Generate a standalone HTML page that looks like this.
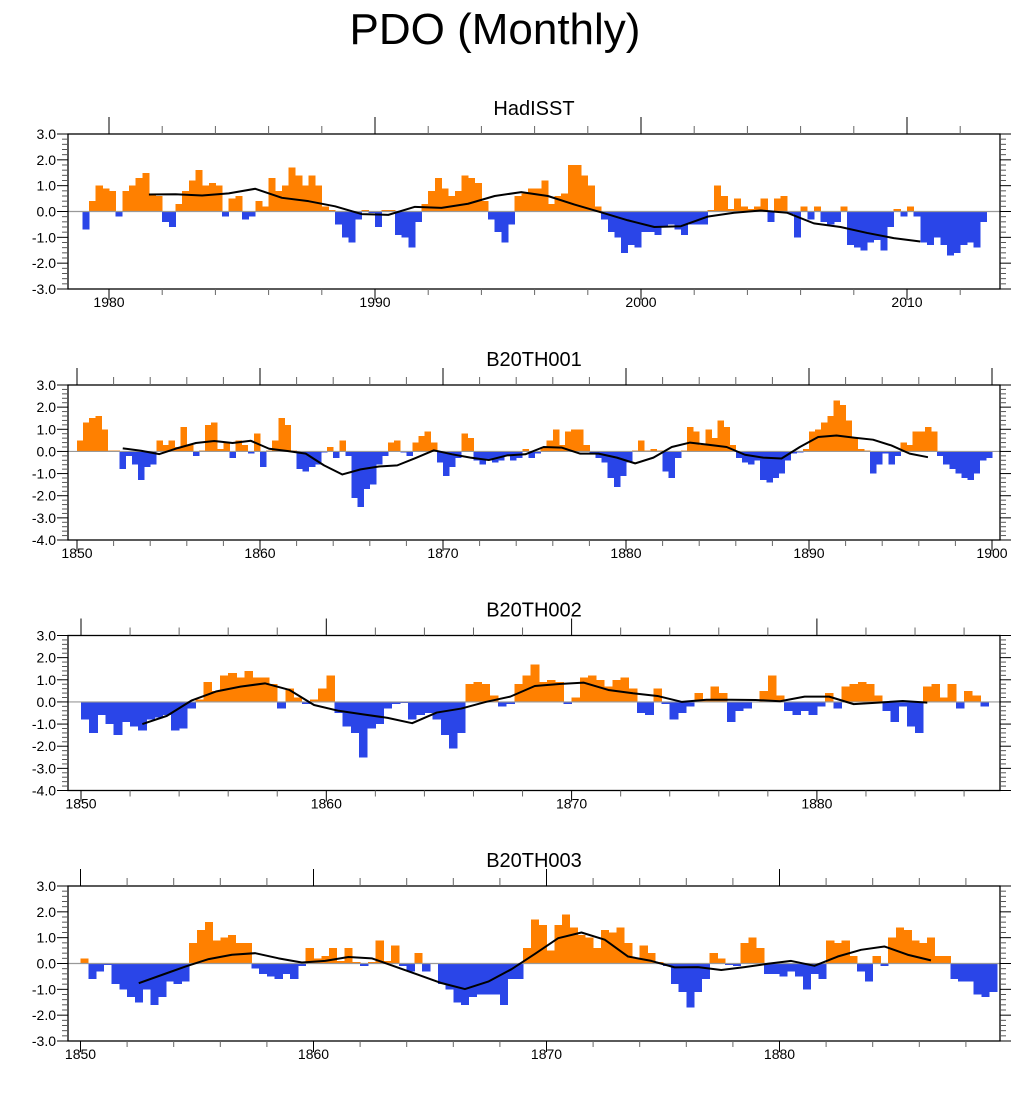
<!DOCTYPE html>
<html><head><meta charset="utf-8"><title>PDO (Monthly)</title>
<style>
html,body{margin:0;padding:0;background:#fff;}
svg{display:block;font-family:"Liberation Sans",Arial,sans-serif;}
</style></head>
<body>
<svg id="chart" width="1028" height="1094" viewBox="0 0 1028 1094" xmlns="http://www.w3.org/2000/svg">
<rect width="1028" height="1094" fill="#fff"/>
<text x="495" y="44" font-size="44" text-anchor="middle">PDO (Monthly)</text>
</svg>
<script>
// ---- Data: HadISST (quarterly, starting 1979.0) ----
const hadStart = 1979.0;
const hadPerYear = 4;
const hadValues = [
-0.7,0.4,1.0,0.9, 0.8,-0.2,0.8,1.0, 1.3,1.5,0.7,0.6, -0.4,-0.6,0.3,0.8,
1.2,1.6,1.0,1.1, 1.0,-0.2,0.5,0.6, -0.3,-0.2,0.4,0.2, 1.3,0.8,1.0,1.7,
1.4,1.0,1.4,1.0, 0.2,0.05,-0.5,-1.0, -1.2,-0.3,0.05,-0.05, -0.6,0.05,0.05,-0.9,
-1.0,-1.4,-0.4,0.3, 0.8,1.3,0.9,0.6, 0.8,1.4,1.3,1.1, 0.4,-0.3,-0.8,-1.2,
-0.5,0.6,0.7,0.9, 0.9,1.2,0.3,0.6, 0.7,1.8,1.8,1.4, 1.0,0.2,-0.3,-0.8,
-1.0,-1.6,-1.3,-1.4, -0.8,-0.8,-0.9,-0.6, -0.5,-0.7,-0.9,-0.5, -0.5,-0.5,0.05,1.0,
0.6,0.1,0.5,0.2, 0.1,0.2,0.5,-0.4, 0.5,0.6,-0.1,-1.0, 0.2,-0.3,0.2,-0.4,
-0.5,-0.4,0.2,-1.3, -1.4,-1.5,-1.2,-1.1, -1.5,-0.6,0.1,-0.2, 0.2,-0.2,-1.2,-1.3,
-1.0,-1.3,-1.7,-1.6, -1.3,-1.2,-1.4,-0.4];
const hadSmoothStart = 1981.5;
const hadSmooth = [0.66,0.67,0.62,0.7,0.88,0.53,0.4,0.2,-0.1,-0.13,0.18,0.14,0.3,0.6,0.75,0.6,0.27,-0.03,-0.34,-0.6,-0.57,-0.2,-0.05,0.04,-0.05,-0.46,-0.6,-0.83,-1.03,-1.16];

// ---- Data: B20TH001 (3 per year, starting 1850) ----
const b1Start = 1850;
const b1PerYear = 3;
const b1Values = [
0.5,1.3,1.5, 1.6,1.0,0.05, 0.05,-0.8,-0.2, -0.6,-1.3,-0.7, -0.6,0.5,0.3,
0.5,0.2,1.1, 0.3,-0.2,0.05, 1.2,1.3,0.1, 0.4,-0.3,0.5, 0.3,-0.1,0.8,
-0.7,0.05,0.5, 1.5,1.2,0.05, -0.8,-0.9,-0.7, -0.6,-0.05,0.2, -0.3,0.5,-0.2,
-2.1,-2.5,-1.7, -1.5,-0.6,-0.2, 0.4,0.5,-0.05, -0.2,0.4,0.7, 0.9,0.4,-0.5,
-1.1,-0.7,-0.3, 0.8,0.6,-0.4, -0.6,-0.4,-0.5, -0.4,-0.2,-0.4, -0.3,0.1,-0.3,
-0.1,0.2,0.5, 1.0,0.3,0.9, 1.0,1.0,0.3, -0.1,-0.3,-0.5, -1.2,-1.6,-1.1,
-0.5,0.05,0.5, 0.05,0.1,0.05, -0.9,-1.2,-0.3, 0.05,1.1,0.9, 0.3,1.0,0.6,
1.4,1.1,0.3, -0.3,-0.5,-0.6, -0.4,-1.3,-1.4, -1.2,-1.0,-0.4, -0.1,-0.05,0.1,
0.9,1.0,1.3, 1.6,2.3,2.1, 1.4,0.6,0.1, 0.05,-1.0,-0.6, -0.1,-0.6,-0.2,
0.4,0.3,0.9, 0.9,1.1,0.9, -0.2,-0.6,-0.8, -1.0,-1.2,-1.3, -1.0,-0.4,-0.3];
const b1SmoothStart = 1852.5;
const b1Smooth = [0.14,0.03,-0.12,0.15,0.38,0.47,0.38,0.48,0.12,0.02,-0.1,-0.63,-1.04,-0.81,-0.68,-0.63,-0.3,0.05,-0.13,-0.28,-0.39,-0.18,-0.13,
0.2,0.17,-0.1,-0.1,-0.28,-0.54,-0.28,0.2,0.4,0.3,0.2,-0.15,-0.28,-0.32,0.2,0.65,0.72,0.62,0.53,0.27,-0.1,-0.26];

// ---- Data: B20TH002 ----
const b2Start = 1850;
const b2PerYear = 3;
const b2Values = [
-0.8,-1.4,-0.6, -1.0,-1.5,-0.9, -1.1,-1.3,-0.8, -0.7,-0.6,-1.3, -1.2,-0.3,0.1,
0.9,0.5,1.2, 1.3,1.1,1.4, 1.1,1.1,0.8, -0.3,0.6,0.2, -0.1,0.1,0.6,
1.2,-0.5,-1.1, -1.4,-2.5,-1.2, -1.0,-0.3,-0.1, -0.05,-0.8,-0.6, -0.5,-0.8,-1.5,
-2.1,-1.4,0.8, 0.9,0.8,0.3, -0.2,-0.1,0.8, 1.2,1.7,0.9, 1.0,0.9,-0.1,
0.2,1.1,1.2, 1.0,0.7,1.0, 1.1,0.6,-0.5, -0.6,0.6,-0.1, -0.8,-0.5,-0.2,
0.4,0.1,0.7, 0.4,-0.9,-0.4, -0.3,0.0,0.5, 1.2,0.3,-0.4, -0.6,-0.4,-0.6,
-0.2,0.4,-0.3, 0.7,0.8,0.9, 0.8,0.3,-0.4, -0.9,-0.2,-1.1, -1.4,0.7,0.8,
0.2,0.8,-0.3, 0.5,0.3,-0.2];
const b2SmoothStart = 1852.5;
const b2Smooth = [-1.0,-0.63,0.06,0.47,0.69,0.84,0.54,-0.14,-0.4,-0.56,-0.72,-0.96,-0.48,-0.3,0.0,0.24,0.72,
0.81,0.87,0.54,0.39,0.27,0.0,0.1,0.1,0.09,0.03,0.24,0.24,-0.1,-0.03,0.04,-0.03];

// ---- Data: B20TH003 ----
const b3Start = 1850;
const b3PerYear = 3;
const b3Values = [
0.2,-0.6,-0.3, -0.05,-0.8,-1.0, -1.3,-1.5,-1.0, -1.6,-1.3,-0.7, -0.8,-0.7,0.8,
1.3,1.6,0.9, 1.0,1.1,0.8, 0.8,-0.2,-0.4, -0.5,-0.6,-0.4, -0.6,-0.1,0.6,
0.2,0.3,0.6, 0.1,0.6,0.05, -0.1,0.05,0.9, 0.1,0.7,-0.1, -0.3,0.4,-0.3,
0.0,-0.8,-1.0, -1.5,-1.6,-1.3, -1.2,-1.2,-1.2, -1.6,-0.6,-0.6, 0.6,1.7,1.5,
0.5,1.5,1.9, 1.4,1.1,1.0, 0.6,1.3,1.2, 1.4,0.8,0.2, 0.7,0.4,0.05,
-0.1,-0.8,-1.1, -1.7,-1.1,-0.6, 0.4,0.2,-0.05, -0.1,0.8,1.0, 0.6,-0.4,-0.4,
-0.5,-0.3,-0.5, -1.0,-0.4,-0.6, 0.9,0.8,0.9, 0.3,-0.3,-0.7, 0.3,-0.1,1.0,
1.4,1.3,0.9, 0.8,1.0,0.3, 0.3,-0.6,-0.7, -0.7,-1.2,-1.3, -1.1];
const b3SmoothStart = 1852.5;
const b3Smooth = [-0.76,-0.44,-0.12,0.17,0.34,0.4,0.2,0.04,0.1,0.25,0.2,-0.12,-0.44,-0.76,-0.99,-0.7,-0.22,0.37,
0.98,1.2,0.92,0.27,0.1,-0.15,-0.14,-0.25,-0.14,-0.01,0.1,-0.09,0.27,0.53,0.66,0.34,0.12];

// ---- Tick label arrays ----
const hadXTicks = [1980,1990,2000,2010];
const b1XTicks = [1850,1860,1870,1880,1890,1900];
const b2XTicks = [1850,1860,1870,1880];
const b3XTicks = [1850,1860,1870,1880];
const yTicks63 = [3,2,1,0,-1,-2,-3];
const yTicks73 = [3,2,1,0,-1,-2,-3,-4];

// ---- Layout (not data) ----
const NS = 'http://www.w3.org/2000/svg';
const svg = document.getElementById('chart');
const FL = 68, FR = 1000, FH = 155;
const panels = [
 {key:'hadisst', title:'HadISST', top:134, ymin:-3, ymax:3, x0:109, yr0:1980, ppy:26.6, xt0:1978, xt1:2013.6,
  start:hadStart, per:hadPerYear, vals:hadValues, sStart:hadSmoothStart, smooth:hadSmooth, xt:hadXTicks, yt:yTicks63},
 {key:'b20th001', title:'B20TH001', top:385, ymin:-4, ymax:3, x0:77, yr0:1850, ppy:18.3, xt0:1849, xt1:1901,
  start:b1Start, per:b1PerYear, vals:b1Values, sStart:b1SmoothStart, smooth:b1Smooth, xt:b1XTicks, yt:yTicks73},
 {key:'b20th002', title:'B20TH002', top:635.5, ymin:-4, ymax:3, x0:81, yr0:1850, ppy:24.53, xt0:1849, xt1:1888,
  start:b2Start, per:b2PerYear, vals:b2Values, sStart:b2SmoothStart, smooth:b2Smooth, xt:b2XTicks, yt:yTicks73},
 {key:'b20th003', title:'B20TH003', top:886, ymin:-3, ymax:3, x0:80.5, yr0:1850, ppy:23.3, xt0:1849, xt1:1890,
  start:b3Start, per:b3PerYear, vals:b3Values, sStart:b3SmoothStart, smooth:b3Smooth, xt:b3XTicks, yt:yTicks63}
];

function mk(tag, attrs, parent){
  const e = document.createElementNS(NS, tag);
  for (const k in attrs) e.setAttribute(k, attrs[k]);
  (parent||svg).appendChild(e);
  return e;
}

panels.forEach(p => {
  const g = mk('g', {});
  
  
  const xs = t => p.x0 + (t - p.yr0) * p.ppy;
  const ys = v => p.top + (p.ymax - v) / (p.ymax - p.ymin) * FH;
  const bot = p.top + FH;

  const title = mk('text', {x:534, y:p.top - 19, 'font-size':20, 'text-anchor':'middle'}, g);
  title.textContent = p.title;
  
  

  // bars
  const bars = mk('g', {'shape-rendering':'crispEdges'}, g);
  
  
  const w = p.ppy / p.per;
  p.vals.forEach((v, i) => {
    const t = p.start + i / p.per;
    const x = xs(t);
    const y0 = ys(0), y1 = ys(v);
    const r = mk('rect', {x:x.toFixed(2), y:Math.min(y0,y1).toFixed(2), width:(w+0.4).toFixed(2),
      height:Math.max(0.5,Math.abs(y1-y0)).toFixed(2), fill: v >= 0 ? '#ff8000' : '#2a45e8'}, bars);
    
    
  });

  // zero line
  const z = mk('line', {x1:FL, x2:FR, y1:ys(0), y2:ys(0), stroke:'#999', 'stroke-width':1.2}, g);
  
  

  // smoothed line
  const pts = p.smooth.map((v, i) => xs(p.sStart + i).toFixed(2) + ',' + ys(v).toFixed(2)).join(' ');
  const pl = mk('polyline', {points:pts, fill:'none', stroke:'#000', 'stroke-width':2, 'stroke-linejoin':'round'}, g);
  
  

  // frame
  const fr = mk('rect', {x:FL, y:p.top, width:FR-FL, height:FH, fill:'none', stroke:'#000', 'stroke-width':1.3}, g);
  
  

  // x ticks
  const xa = mk('g', {stroke:'#000', 'stroke-width':1}, g);
  
  
  for (let yr = Math.ceil(p.xt0/2)*2; yr <= p.xt1; yr += 2) {
    const x = xs(yr);
    if (x < FL || x > FR) continue;
    const major = yr % 10 === 0;
    const L = major ? 17 : 8, Lb = major ? 11 : 6;
    mk('line', {x1:x, x2:x, y1:p.top, y2:p.top - L, stroke: major ? '#000' : '#666'}, xa);
    mk('line', {x1:x, x2:x, y1:bot, y2:bot + Lb, stroke: major ? '#000' : '#666'}, xa);
  }
  p.xt.forEach(yr => {
    const t = mk('text', {x:xs(yr), y:bot + 18, 'font-size':14, 'text-anchor':'middle', stroke:'none'}, g);
    t.textContent = yr;
    
    
  });

  // y ticks
  const ya = mk('g', {'stroke-width':1}, g);
  
  
  for (let k = Math.round(p.ymin*5); k <= Math.round(p.ymax*5); k++) {
    const y = ys(k/5);
    const major = k % 5 === 0;
    const L = major ? 11 : 6;
    const c = major ? '#000' : '#555';
    mk('line', {x1:FL, x2:FL - L, y1:y, y2:y, stroke:c}, ya);
    mk('line', {x1:FR, x2:FR + L, y1:y, y2:y, stroke:c}, ya);
  }
  p.yt.forEach(v => {
    const t = mk('text', {x:56, y:ys(v) + 5, 'font-size':14, 'text-anchor':'end'}, g);
    t.textContent = v.toFixed(1);
    
    
  });
});
</script>
</body></html>
